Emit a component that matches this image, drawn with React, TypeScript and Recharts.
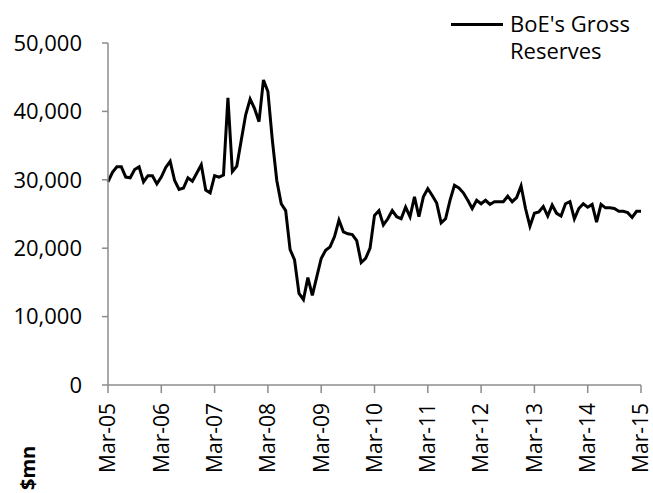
import { Line, LineChart, XAxis, YAxis } from 'recharts';

const FONT = '"Open Sans", "Noto Sans", sans-serif';
const AXIS_GREY = '#8c8c8c';

// monthly, Mar-05 .. Mar-15 ($mn)
const RESERVES = [
  29700, 31100, 31900, 31900, 30400, 30300, 31500, 31900, 29700, 30600, 30600, 29400,
  30400, 31800, 32700, 29900, 28600, 28800, 30300, 29800, 31000, 32200, 28500, 28100,
  30600, 30400, 30700, 42000, 31200, 32000, 35800, 39500, 41800, 40400, 38500, 44600,
  42900, 35800, 29900, 26500, 25500, 19800, 18300, 13400, 12500, 15700, 13100, 15800,
  18500, 19700, 20200, 21700, 24100, 22400, 22100, 22000, 21100, 17900, 18500, 20000,
  24800, 25500, 23400, 24300, 25500, 24600, 24300, 26000, 24600, 27500, 24600, 27500,
  28700, 27700, 26600, 23700, 24300, 27000, 29200, 28800, 28100, 27000, 25800, 27000,
  26500, 27000, 26400, 26800, 26800, 26800, 27600, 26800, 27400, 29100, 25800, 23200,
  25100, 25300, 26100, 24700, 26300, 25100, 24700, 26500, 26800, 24300, 25800, 26500,
  26000, 26400, 23800, 26400, 25900, 25900, 25800, 25400, 25400, 25200, 24500, 25400,
  25400,
];

const YEAR_LABELS = [
  'Mar-05', 'Mar-06', 'Mar-07', 'Mar-08', 'Mar-09', 'Mar-10',
  'Mar-11', 'Mar-12', 'Mar-13', 'Mar-14', 'Mar-15',
];
const Y_TICKS = [0, 10000, 20000, 30000, 40000, 50000];
const SERIES_NAME = "BoE's Gross Reserves";

const data = RESERVES.map((v, i) => ({ m: i, value: v }));
const xTicks = YEAR_LABELS.map((_, i) => i * 12);

function XTick(props: any) {
  const { x, y, payload } = props;
  const label = YEAR_LABELS[Math.round(payload.value / 12)];
  return (
    <text
      x={x}
      y={y}
      transform={`rotate(-90 ${x} ${y})`}
      textAnchor="end"
      dy="0.35em"
      fill="#000"
      fontSize={21}
      fontFamily={FONT}
    >
      {label}
    </text>
  );
}

export default function App() {
  return (
    <div style={{ position: 'absolute', left: 0, top: 0, width: 653, height: 493, background: '#fff' }}>
      <LineChart width={653} height={493} data={data} margin={{ top: 43, right: 12, bottom: 0, left: 0 }}>
        <XAxis
          dataKey="m"
          type="number"
          domain={[0, 120]}
          ticks={xTicks}
          interval={0}
          height={108}
          stroke={AXIS_GREY}
          strokeWidth={1.5}
          tickSize={8}
          tickMargin={10}
          tick={<XTick />}
        />
        <YAxis
          type="number"
          domain={[0, 50000]}
          ticks={Y_TICKS}
          width={108}
          stroke={AXIS_GREY}
          strokeWidth={1.5}
          tickSize={6}
          tickMargin={20}
          tickFormatter={(v: number) => v.toLocaleString('en-US')}
          tick={{ fill: '#000', fontSize: 22, fontFamily: FONT }}
        />
        <Line
          type="linear"
          dataKey="value"
          name={SERIES_NAME}
          stroke="#000"
          strokeWidth={3}
          dot={false}
          isAnimationActive={false}
        />
      </LineChart>
      {/* legend, top right */}
      <div
        style={{
          position: 'absolute',
          left: 451,
          top: 10,
          display: 'flex',
          fontFamily: FONT,
          fontSize: 22,
          lineHeight: '27px',
          color: '#000',
        }}
      >
        <div style={{ width: 52, height: 3, background: '#000', marginTop: 13, marginRight: 7 }} />
        <div style={{ width: 135 }}>{SERIES_NAME}</div>
      </div>
      <div
        style={{
          position: 'absolute',
          left: 7,
          top: 459,
          width: 42,
          fontFamily: FONT,
          fontWeight: 'bold',
          fontSize: 20,
          lineHeight: '20px',
          transform: 'rotate(-90deg)',
          color: '#000',
        }}
      >
        $mn
      </div>
    </div>
  );
}
